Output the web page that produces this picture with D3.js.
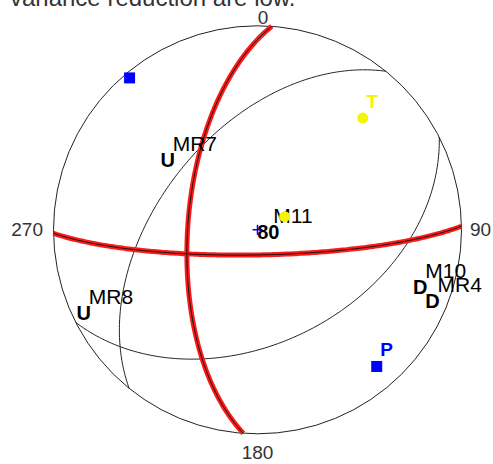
<!DOCTYPE html>
<html>
<head>
<meta charset="utf-8">
<script src="https://cdn.jsdelivr.net/npm/d3@7"></script>
<style>
body { margin: 0; background: #fff; }
svg { display: block; font-family: "Liberation Sans", Arial, sans-serif; }
</style>
</head>
<body>
<div id="chart"></div>
<script>
var width = 493, height = 464;
var cx = 257.5, cy = 229.8, R = 204;
var rad = Math.PI / 180;

var titleText = 'variance reduction are low.';

var dirLabels = ['0', '90', '180', '270'];
var dirAzimuths = [0, 90, 180, 270];

// nodal planes, strike / dip (right hand rule)
var bestStrikes = [184, 89];
var bestDips = [62, 80];
var altStrikes = [219, 63];
var altDips = [50.5, 44];

// P and T axes, trend / plunge
var axisNames = ['T', 'P', '', ''];
var axisKinds = ['T', 'P', 'P', 'T'];
var axisTrends = [43.3, 138.9, 319.9, 64.2];
var axisPlunges = [25.7, 12.1, 3, 78];

// stations, azimuth / plunge of ray
var stationNames = ['MR7', 'MR8', 'M10', 'MR4', 'M11'];
var stationPolarity = ['U', 'U', 'D', 'D', '80'];
var stationAzimuths = [307.9, 244.3, 109.2, 112.1, 103.5];
var stationPlunges = [43.5, 6.1, 16.6, 8.2, 85.6];

var svg = d3.select('#chart').append('svg')
	.attr('width', width)
	.attr('height', height);

// equal area, lower hemisphere
var rScale = d3.scaleSqrt().domain([0, 1]).range([0, R]);
var xScale = d3.scaleLinear().domain([-R, R]).range([cx - R, cx + R]);
var yScale = d3.scaleLinear().domain([-R, R]).range([cy + R, cy - R]);

function project(trend, plunge) {
	var r = rScale(1 - Math.sin(plunge * rad));
	return [xScale(r * Math.sin(trend * rad)), yScale(r * Math.cos(trend * rad))];
}

function planePoints(strike, dip) {
	var s = strike * rad, d = dip * rad, dd = s + Math.PI / 2;
	return d3.range(0, 180.5, 1).map(function(t) {
		var a = t * rad;
		var e = Math.cos(a) * Math.sin(s) + Math.sin(a) * Math.cos(d) * Math.sin(dd);
		var n = Math.cos(a) * Math.cos(s) + Math.sin(a) * Math.cos(d) * Math.cos(dd);
		var z = Math.sin(a) * Math.sin(d);
		return project(Math.atan2(e, n) / rad, Math.asin(Math.min(1, z)) / rad);
	});
}

var line = d3.line();

svg.append('text')
	.attr('x', 10)
	.attr('y', 5.5)
	.attr('fill', '#333')
	.style('font-size', '24px')
	.text(titleText);

svg.append('circle')
	.attr('cx', xScale(0))
	.attr('cy', yScale(0))
	.attr('r', rScale(1))
	.attr('fill', 'none')
	.attr('stroke', '#222')
	.attr('stroke-width', 1);

svg.append('g')
	.selectAll('text')
	.data(dirLabels)
	.enter()
	.append('text')
	.attr('fill', '#333')
	.style('font-size', '19px')
	.attr('text-anchor', function(d, i) {
		return dirAzimuths[i] == 90 ? 'start' : dirAzimuths[i] == 270 ? 'end' : 'middle';
	})
	.attr('x', function(d, i) {
		var p = project(dirAzimuths[i], 0);
		if (dirAzimuths[i] == 90) return p[0] + 8.5;
		if (dirAzimuths[i] == 270) return p[0] - 10.5;
		if (dirAzimuths[i] == 0) return p[0] + 5.5;
		return p[0];
	})
	.attr('y', function(d, i) {
		var p = project(dirAzimuths[i], 0);
		if (dirAzimuths[i] == 0) return p[1] - 2;
		if (dirAzimuths[i] == 180) return p[1] + 25.5;
		return p[1] + 6.5;
	})
	.text(function(d) { return d; });

svg.append('g')
	.selectAll('path')
	.data(altStrikes)
	.enter()
	.append('path')
	.attr('d', function(d, i) { return line(planePoints(d, altDips[i])); })
	.attr('fill', 'none')
	.attr('stroke', '#222')
	.attr('stroke-width', 1);

var best = svg.append('g');
best.selectAll('path.halo')
	.data(bestStrikes)
	.enter()
	.append('path')
	.attr('class', 'halo')
	.attr('d', function(d, i) { return line(planePoints(d, bestDips[i])); })
	.attr('fill', 'none')
	.attr('stroke', '#ff1a1a')
	.attr('stroke-width', 5);
best.selectAll('path.core')
	.data(bestStrikes)
	.enter()
	.append('path')
	.attr('class', 'core')
	.attr('d', function(d, i) { return line(planePoints(d, bestDips[i])); })
	.attr('fill', 'none')
	.attr('stroke', '#111')
	.attr('stroke-width', 1);

// stations
var st = svg.append('g')
	.selectAll('g')
	.data(stationNames)
	.enter()
	.append('g')
	.attr('transform', function(d, i) {
		var p = project(stationAzimuths[i], stationPlunges[i]);
		return 'translate(' + p[0] + ',' + p[1] + ')';
	});
st.append('text')
	.attr('text-anchor', 'middle')
	.attr('y', 7)
	.style('font-size', '20px')
	.style('font-weight', 'bold')
	.attr('fill', '#000')
	.text(function(d, i) { return stationPolarity[i]; });
st.append('text')
	.attr('x', 5)
	.attr('y', -9)
	.style('font-size', '21px')
	.attr('fill', '#000')
	.text(function(d) { return d; });

// centre cross
svg.append('path')
	.attr('d', 'M' + (xScale(0) - 5) + ',' + yScale(0) + 'h10M' + xScale(0) + ',' + (yScale(0) - 5) + 'v10')
	.attr('stroke', '#0000ff')
	.attr('stroke-width', 1.5);

// P / T axes
var ax = svg.append('g')
	.selectAll('g')
	.data(axisNames)
	.enter()
	.append('g')
	.attr('transform', function(d, i) {
		var p = project(axisTrends[i], axisPlunges[i]);
		return 'translate(' + p[0] + ',' + p[1] + ')';
	});
ax.filter(function(d, i) { return axisKinds[i] == 'T'; })
	.append('circle')
	.attr('r', 5.5)
	.attr('fill', '#f5f500');
ax.filter(function(d, i) { return axisKinds[i] == 'P'; })
	.append('rect')
	.attr('x', -5.5)
	.attr('y', -5.5)
	.attr('width', 11)
	.attr('height', 11)
	.attr('fill', '#0000ff');
ax.append('text')
	.attr('x', 3.5)
	.attr('y', -10)
	.style('font-size', '19px')
	.style('font-weight', 'bold')
	.attr('fill', function(d, i) { return axisKinds[i] == 'T' ? '#f5f500' : '#0000ff'; })
	.text(function(d) { return d; });
</script>
</body>
</html>
